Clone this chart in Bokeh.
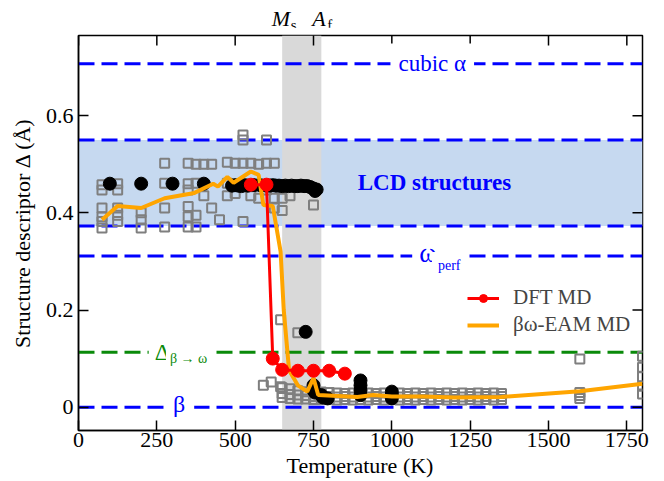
import numpy as np
from bokeh.plotting import figure
from bokeh.layouts import column
from bokeh.models import (Range1d, FixedTicker, Span, BoxAnnotation,
                          Label, Legend, LegendItem, Div)
from bokeh.embed import file_html
from bokeh.resources import INLINE

FONT = "Liberation Serif"

# ---------------- data ----------------
x_ticks = [0, 250, 500, 750, 1000, 1250, 1500, 1750]
y_ticks = [0, 0.2, 0.4, 0.6]
y_tick_labels = ["0", "0.2", "0.4", "0.6"]
x_start, x_end = 0, 1800
y_start, y_end = -0.048, 0.765

ms_T, af_T = 650, 775
lcd_low, lcd_high = 0.373, 0.55
cubic_level = 0.707
omega_level = 0.311
beta_level = 0.0
dbw_level = 0.113

# gray open squares (upper, LCD region)
sqU_T = [75, 75, 75, 75, 75, 75, 125, 125, 125, 125, 125, 200, 200, 200,
         275, 275, 275, 275, 350, 350, 350, 350, 350, 350, 375, 375, 375, 375,
         400, 400, 425, 425, 450, 475, 475, 475, 500, 500, 525, 525, 525, 525,
         550, 550, 575, 575, 600, 600, 600, 625, 625, 625, 650, 650, 675, 750]
sqU_D = [0.458, 0.447, 0.41, 0.392, 0.382, 0.369, 0.46, 0.447, 0.41, 0.395, 0.382,
         0.40, 0.386, 0.369, 0.502, 0.461, 0.41, 0.371,
         0.502, 0.46, 0.447, 0.413, 0.392, 0.371, 0.50, 0.461, 0.395, 0.371,
         0.50, 0.435, 0.50, 0.41, 0.386, 0.504, 0.461, 0.435, 0.502, 0.44,
         0.56, 0.55, 0.502, 0.382, 0.502, 0.435, 0.50, 0.43, 0.55, 0.502, 0.447,
         0.502, 0.43, 0.41, 0.43, 0.405, 0.435, 0.416]

# gray open squares (transition / beta region)
sqL_T = [590, 615, 645, 645, 700,
         650, 650, 650, 675, 675, 675, 700, 700, 700, 725, 725, 725,
         750, 750, 750, 775, 775, 775, 800, 800, 800, 825, 825, 825,
         850, 850, 850, 875, 875, 875, 900, 900, 900, 925, 925, 925,
         950, 950, 950, 975, 975, 975, 1000, 1000, 1000, 1025, 1025, 1025,
         1050, 1050, 1050, 1075, 1075, 1075, 1100, 1100, 1100, 1125, 1125, 1125,
         1150, 1150, 1150, 1175, 1175, 1175, 1200, 1200, 1200, 1225, 1225, 1225,
         1250, 1250, 1250, 1275, 1275, 1275, 1300, 1300, 1300, 1325, 1325, 1325,
         1350, 1350, 1350,
         1600, 1600, 1600, 1600, 1800, 1800, 1800, 1800, 1800]
sqL_D = [0.045, 0.052, 0.042, 0.18, 0.153,
         0.040, 0.028, 0.020, 0.038, 0.026, 0.018, 0.034, 0.025, 0.017,
         0.032, 0.024, 0.017, 0.033, 0.022, 0.016, 0.031, 0.023, 0.016,
         0.030, 0.022, 0.016, 0.029, 0.021, 0.015, 0.028, 0.022, 0.016,
         0.029, 0.021, 0.015, 0.028, 0.022, 0.016, 0.029, 0.021, 0.015,
         0.028, 0.022, 0.016, 0.029, 0.021, 0.015, 0.028, 0.022, 0.016,
         0.029, 0.021, 0.015, 0.028, 0.022, 0.016, 0.029, 0.021, 0.015,
         0.028, 0.022, 0.016, 0.029, 0.021, 0.015, 0.028, 0.022, 0.016,
         0.029, 0.021, 0.015, 0.028, 0.022, 0.016, 0.029, 0.021, 0.015,
         0.028, 0.022, 0.016, 0.029, 0.021, 0.015, 0.028, 0.022, 0.016,
         0.029, 0.021, 0.015, 0.028, 0.022, 0.016,
         0.099, 0.030, 0.024, 0.018, 0.105, 0.082, 0.0625, 0.043, 0.027]

# black filled circles
blk_T = [100, 200, 300, 400, 490, 500, 510, 520, 530, 540, 560, 580, 600, 610,
         620, 630, 640, 650, 660, 670, 680, 690, 700, 710, 720, 730, 740, 750,
         755, 760, 725, 750, 750, 755, 775, 780, 795, 900, 900, 900, 900,
         1000, 1000, 1000]
blk_D = [0.46, 0.46, 0.46, 0.46, 0.456, 0.457, 0.456, 0.455, 0.457, 0.456,
         0.457, 0.457, 0.456, 0.456, 0.457, 0.456, 0.456, 0.455, 0.456, 0.455,
         0.456, 0.455, 0.455, 0.456, 0.455, 0.455, 0.453, 0.45, 0.445, 0.448,
         0.155, 0.045, 0.035, 0.03, 0.025, 0.02, 0.018, 0.055, 0.045, 0.035,
         0.025, 0.032, 0.025, 0.018]

# DFT MD (red)
dft_T = [550, 600, 620, 650, 700, 750, 800, 850]
dft_D = [0.458, 0.458, 0.10, 0.077, 0.075, 0.075, 0.075, 0.069]

# beta-omega EAM MD (orange)
eam_T = [75, 125, 200, 275, 370, 430, 445, 475, 495, 550, 575, 590, 620, 645,
         655, 672, 700, 730, 750, 765, 890, 940, 1000, 1100, 1200, 1350, 1600, 1800]
eam_D = [0.386, 0.414, 0.41, 0.43, 0.441, 0.46, 0.454, 0.474, 0.462, 0.485,
         0.478, 0.416, 0.414, 0.32, 0.2, 0.076, 0.045, 0.032, 0.06, 0.025,
         0.021, 0.025, 0.022, 0.022, 0.02, 0.021, 0.033, 0.048]

# ---------------- layout geometry ----------------
W = 664
TOP_H, P_H, BOT_H = 27, 432, 22
B_LEFT, B_RIGHT, B_TOP, B_BOTTOM = 78, 22, 8, 29
FRAME_W = W - B_LEFT - B_RIGHT


def x_px(t):
    return B_LEFT + (t - x_start) / (x_end - x_start) * FRAME_W


# ---------------- figure ----------------
p = figure(width=W, height=P_H, x_range=Range1d(x_start, x_end),
           y_range=Range1d(y_start, y_end), output_backend="svg",
           toolbar_location=None, min_border_left=B_LEFT, min_border_right=B_RIGHT,
           min_border_top=B_TOP, min_border_bottom=B_BOTTOM)
p.xgrid.grid_line_color = None
p.ygrid.grid_line_color = None
p.outline_line_color = "black"
p.outline_line_width = 1.5
p.background_fill_color = "white"

for ax, ticks in [(p.xaxis[0], x_ticks), (p.yaxis[0], y_ticks)]:
    ax.ticker = FixedTicker(ticks=ticks)
    ax.major_tick_in = 10
    ax.major_tick_out = 0
    ax.minor_tick_in = 0
    ax.minor_tick_out = 0
    ax.axis_line_width = 1.5
    ax.axis_line_color = "black"
    ax.major_tick_line_width = 1.5
    ax.major_tick_line_color = "black"
    ax.major_label_text_font = FONT
    ax.major_label_text_color = "black"
    ax.major_label_text_font_size = "22px"

p.xaxis[0].major_label_standoff = 2
p.yaxis[0].major_label_standoff = 5
p.yaxis[0].major_label_overrides = {t: l for t, l in zip(y_ticks, y_tick_labels)}
p.yaxis[0].axis_label = "Structure descriptor \u0394 (\u00c5)"
p.yaxis[0].axis_label_text_font = FONT
p.yaxis[0].axis_label_text_font_size = "22px"
p.yaxis[0].axis_label_text_font_style = "normal"
p.yaxis[0].axis_label_text_color = "black"
p.yaxis[0].axis_label_standoff = 8

# bands
p.add_layout(BoxAnnotation(bottom=lcd_low, top=lcd_high, fill_color="#c6d9f0",
                           fill_alpha=1.0, line_color=None, level="underlay"))
p.add_layout(BoxAnnotation(left=ms_T, right=af_T, fill_color="#d9d9d9",
                           fill_alpha=1.0, line_color=None, level="underlay"))

# reference dashed lines
for lvl in [cubic_level, lcd_high, lcd_low, omega_level, beta_level]:
    p.add_layout(Span(location=lvl, dimension="width", line_color="#0000ff",
                      line_width=3, line_dash="16 7", level="underlay"))
p.add_layout(Span(location=dbw_level, dimension="width", line_color="#0a8a0a",
                  line_width=3, line_dash="16 7", level="underlay"))

# mirrored inward ticks on top and right edges (half of each dash is clipped)
p.scatter(x_ticks, [y_end] * len(x_ticks), marker="dash", angle=np.pi / 2,
          size=20, line_color="black", line_width=1.5)
p.scatter([x_end] * len(y_ticks), y_ticks, marker="dash", size=20,
          line_color="black", line_width=1.5)

# data
p.scatter(sqU_T, sqU_D, marker="square", size=9, fill_color=None,
          line_color="#7f7f7f", line_width=2)
p.scatter(sqL_T, sqL_D, marker="square", size=9, fill_color=None,
          line_color="#7f7f7f", line_width=2)
p.scatter(blk_T, blk_D, marker="circle", size=13, fill_color="black",
          line_color="black")
eam_line = p.line(eam_T, eam_D, line_color="#ffa500", line_width=4)
dft_line = p.line(dft_T, dft_D, line_color="#ff0000", line_width=3)
dft_pts = p.scatter(dft_T, dft_D, marker="circle", size=13, fill_color="#ff0000",
                    line_color="#ff0000")

legend = Legend(items=[LegendItem(label="DFT MD", renderers=[dft_line, dft_pts]),
                       LegendItem(label="\u03b2\u03c9-EAM MD", renderers=[eam_line])],
                location=(389, 93), label_text_font=FONT, label_text_font_size="21px",
                glyph_width=32, glyph_height=20, label_standoff=14, spacing=2,
                padding=5, margin=0, border_line_color=None,
                background_fill_alpha=0)
p.add_layout(legend)


def lab(x, y, text, size, color, align="left", style="normal", bg=False, pad=0):
    kw = {}
    if bg:
        kw = dict(background_fill_color="white", padding=pad)
    p.add_layout(Label(x=x, y=y, text=text, text_font=FONT,
                       text_font_size=size, text_color=color, text_align=align,
                       text_baseline="alphabetic", text_font_style=style, **kw))


BLUE = "#0000ff"
GREEN = "#0a8a0a"
lab(1129, 0.7065, "cubic \u03b1", "23px", BLUE, align="center", bg=True, pad=8)
lab(1136, 0.4625, "LCD structures", "23px", BLUE, align="center", style="bold")
lab(1065, 0.3167, "\u03c9", "27px", BLUE, bg=True, pad=7)
lab(1128, 0.2916, "perf", "14px", BLUE, bg=True, pad=6)
lab(321, 0.007, "\u03b2", "24px", BLUE, align="center", bg=True, pad=9)
lab(224, 0.1139, "\u0394", "24px", GREEN, bg=True, pad=6)
lab(279, 0.1006, "\u03b2 \u2192 \u03c9", "14px", GREEN, bg=True, pad=4)

# ---------------- labels outside the frame (HTML) ----------------
ms_x, af_x = x_px(ms_T), x_px(af_T)
top_html = (
    f'<div style="position:relative;width:{W}px;height:{TOP_H}px;'
    f'font-family:\'{FONT}\';color:black;overflow:visible;">'
    f'<span style="position:absolute;left:{ms_x - 10:.1f}px;top:7.6px;font-size:22px;'
    f'font-style:italic;line-height:22px;">M</span>'
    f'<span style="position:absolute;left:{ms_x + 9:.1f}px;top:18.4px;font-size:15px;'
    f'line-height:15px;">s</span>'
    f'<span style="position:absolute;left:{af_x - 8.5:.1f}px;top:7.6px;font-size:22px;'
    f'font-style:italic;line-height:22px;">A</span>'
    f'<span style="position:absolute;left:{af_x + 6.5:.1f}px;top:18.4px;font-size:15px;'
    f'line-height:15px;">f</span>'
    '</div>'
)
bot_html = (
    f'<div style="position:relative;width:{W}px;height:{BOT_H}px;'
    f'font-family:\'{FONT}\';color:black;overflow:visible;">'
    f'<div style="position:absolute;left:{B_LEFT}px;width:{FRAME_W}px;top:0px;'
    f'text-align:center;font-size:22px;line-height:13px;white-space:nowrap;">'
    'Temperature (K)</div></div>'
)
top_div = Div(text=top_html, width=W, height=TOP_H, margin=0)
bot_div = Div(text=bot_html, width=W, height=BOT_H, margin=0)

layout = column(top_div, p, bot_div, spacing=0)
open("out.html", "w").write(file_html(layout, INLINE))
